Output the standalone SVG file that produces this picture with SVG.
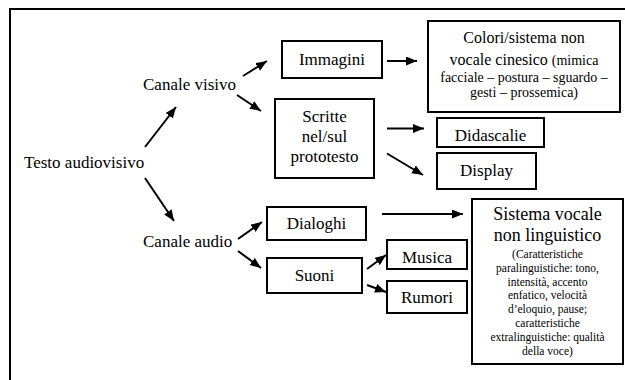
<svg xmlns="http://www.w3.org/2000/svg" width="625" height="380" viewBox="0 0 625 380" font-family="'Liberation Serif', 'DejaVu Serif', serif">
<style>
  .box{fill:#fff;stroke:#000;stroke-width:2}
  .frame{fill:#fff;stroke:#000;stroke-width:2}
  text{font-family:'Liberation Serif','DejaVu Serif',serif;fill:#000}
  .t{font-size:17px}
  .c{text-anchor:middle}
  .h{font-size:16px}
  .h2{font-size:18px}
  .s14{font-size:14px}
  .s11{font-size:11.5px}
  .arr{stroke:#000;stroke-width:2;fill:none;marker-end:url(#ah)}
</style>
<defs>
  <marker id="ah" markerUnits="userSpaceOnUse" markerWidth="12" markerHeight="10" refX="11" refY="4.5" orient="auto">
    <path d="M0,0 L11,4.5 L0,9 z" fill="#000"/>
  </marker>
</defs>
<rect x="0" y="0" width="625" height="380" fill="#fff"/>
<rect class="frame" x="10" y="9" width="640" height="400"/>

<g id="connectors">
  <line class="arr" x1="145" y1="147" x2="176" y2="107"/>
  <line class="arr" x1="145" y1="178" x2="174" y2="221"/>
  <line class="arr" x1="243" y1="76" x2="267" y2="61"/>
  <line class="arr" x1="237" y1="95" x2="261" y2="111"/>
  <line class="arr" x1="387" y1="61" x2="417" y2="61"/>
  <line class="arr" x1="387" y1="128.5" x2="424" y2="128.5"/>
  <line class="arr" x1="387" y1="153.5" x2="423" y2="175"/>
  <line class="arr" x1="238" y1="239" x2="262" y2="222"/>
  <line class="arr" x1="238" y1="251" x2="261" y2="268"/>
  <line class="arr" x1="382" y1="214" x2="463" y2="214"/>
  <line class="arr" x1="367" y1="269" x2="386" y2="255"/>
  <line class="arr" x1="367" y1="285" x2="386" y2="292"/>
</g>

<g id="testo"><text class="t" x="24" y="168">Testo audiovisivo</text></g>
<g id="canale-visivo"><text class="t" x="143" y="90">Canale visivo</text></g>
<g id="canale-audio"><text class="t" x="143" y="247">Canale audio</text></g>

<g id="immagini">
  <rect class="box" x="282" y="41" width="100" height="37"/>
  <text class="t c" x="332" y="65">Immagini</text>
</g>

<g id="colori">
  <rect class="box" x="428" y="21" width="192" height="91"/>
  <text class="h c" x="524" y="43">Colori/sistema non</text>
  <text class="c" x="524" y="65"><tspan class="h">vocale cinesico </tspan><tspan class="s14">(mimica</tspan></text>
  <text class="s14 c" x="524" y="82">facciale – postura – sguardo –</text>
  <text class="s14 c" x="524" y="97">gesti – prossemica)</text>
</g>

<g id="scritte">
  <rect class="box" x="275" y="99" width="99" height="79"/>
  <text class="t c" x="324.5" y="122">Scritte</text>
  <text class="t c" x="324.5" y="142">nel/sul</text>
  <text class="t c" x="324.5" y="162">prototesto</text>
</g>

<g id="didascalie">
  <rect class="box" x="437" y="118" width="107" height="29"/>
  <text class="t c" x="490.5" y="141">Didascalie</text>
</g>

<g id="display">
  <rect class="box" x="437" y="153" width="99" height="36"/>
  <text class="t c" x="486.5" y="176">Display</text>
</g>

<g id="dialoghi">
  <rect class="box" x="267" y="207" width="99" height="33"/>
  <text class="t c" x="316.5" y="229">Dialoghi</text>
</g>

<g id="suoni">
  <rect class="box" x="267" y="258" width="95" height="35"/>
  <text class="t c" x="314.5" y="281">Suoni</text>
</g>

<g id="musica">
  <rect class="box" x="387" y="240" width="80" height="29"/>
  <text class="t c" x="427" y="263">Musica</text>
</g>

<g id="rumori">
  <rect class="box" x="387" y="281" width="80" height="32"/>
  <text class="t c" x="427" y="303">Rumori</text>
</g>

<g id="sistema">
  <rect class="box" x="472" y="199" width="151" height="165"/>
  <text class="h2 c" x="547.5" y="220">Sistema vocale</text>
  <text class="h2 c" x="547.5" y="240.5">non linguistico</text>
  <text class="s11 c" x="547.5" y="258">(Caratteristiche</text>
  <text class="s11 c" x="547.5" y="272">paralinguistiche: tono,</text>
  <text class="s11 c" x="547.5" y="285.5">intensità, accento</text>
  <text class="s11 c" x="547.5" y="299">enfatico, velocità</text>
  <text class="s11 c" x="547.5" y="313">d’eloquio, pause;</text>
  <text class="s11 c" x="547.5" y="327">caratteristiche</text>
  <text class="s11 c" x="547.5" y="341">extralinguistiche: qualità</text>
  <text class="s11 c" x="547.5" y="355">della voce)</text>
</g>
</svg>
